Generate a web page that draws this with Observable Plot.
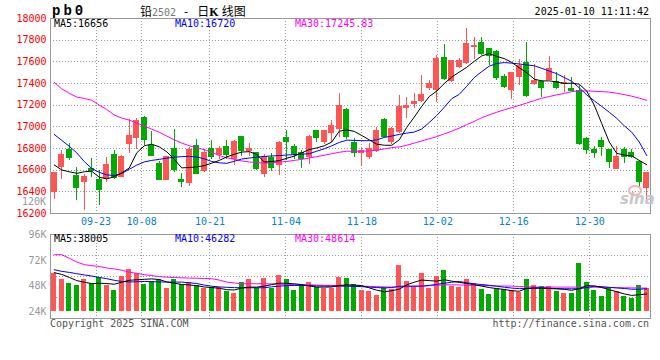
<!DOCTYPE html>
<html><head><meta charset="utf-8">
<script src="https://cdn.jsdelivr.net/npm/d3@7"></script>
<script src="https://cdn.jsdelivr.net/npm/@observablehq/plot@0.6"></script>
<style>
body{margin:0;background:#fff}
#wrap{position:relative;width:660px;height:360px;overflow:hidden;background:#fff;font-family:"DejaVu Sans Mono",monospace;font-size:10px}
.t{position:absolute;white-space:nowrap;line-height:1;z-index:5}
</style></head><body>
<div id="wrap">
  <div id="p1" style="position:absolute;left:0;top:0"></div>
  <div id="p2" style="position:absolute;left:0;top:222px"></div>
</div>
<script>
// ---------- data ----------
const opens  = [16395,16625,16788,16548,16495,16610,16511,16517,16742,16541,16840,16895,17080,16825,16655,16511,16794,16511,16480,16825,16588,16800,16737,16817,16700,16906,16777,16755,16561,16709,16644,16894,16817,16761,16724,16962,16860,16940,16983,17156,16854,16760,16725,16780,17063,16856,16948,17178,17215,17240,17363,17339,17633,17424,17556,17593,17738,17777,17716,17694,17461,17342,17464,17593,17394,17418,17434,17418,17394,17348,17332,16888,16789,16865,16789,16611,16789,16755,16679,16433];
const closes = [16575,16742,16708,16431,16538,16595,16421,16646,16532,16723,16917,17055,16877,16732,16511,16723,16603,16495,16788,16569,16754,16717,16792,16737,16860,16777,16792,16607,16724,16616,16848,16860,16746,16700,16909,16894,16962,17008,17193,16906,16761,16775,16796,16964,16909,16980,17185,17190,17231,17296,17400,17624,17440,17609,17609,17762,17747,17670,17655,17455,17369,17501,17563,17286,17424,17357,17532,17363,17409,17332,16842,16786,16755,16817,16672,16725,16718,16725,16494,16575];
const highs  = [16580,16778,16849,16625,16563,16708,16600,16717,16778,16732,17071,17080,17092,16954,16677,16730,16972,16569,16809,16886,16788,16871,16823,16875,16875,16915,16848,16767,16746,16755,16869,16962,16838,16783,16922,16962,16965,17060,17310,17169,16891,16800,16842,16995,17081,16990,17286,17271,17308,17471,17424,17655,17756,17615,17630,17912,17823,17823,17725,17705,17486,17505,17624,17777,17578,17424,17645,17501,17471,17455,17378,16903,16817,16897,16795,16817,16805,16795,16690,16580];
const lows   = [16330,16517,16686,16323,16231,16532,16277,16486,16517,16532,16754,16794,16825,16723,16501,16505,16578,16440,16449,16557,16578,16702,16700,16700,16644,16730,16724,16600,16530,16592,16551,16690,16700,16616,16653,16854,16838,16860,16900,16885,16721,16633,16703,16765,16888,16840,16934,17081,17169,17225,17339,17225,17424,17409,17540,17578,17624,17655,17563,17424,17354,17256,17378,17271,17378,17271,17424,17348,17317,17330,16826,16743,16709,16725,16611,16608,16657,16706,16442,16295];
const volumes = [60100,54400,50700,48800,54400,50700,56000,48800,44100,57300,63800,60100,49700,52500,54400,46000,54400,49700,51600,48800,46000,46900,46900,43100,41300,51600,54400,46000,55400,46000,58200,54400,44100,48800,51600,46900,46000,46000,55700,54700,49100,43800,42800,39100,46300,44700,67300,52200,47500,59400,46000,56900,62600,47500,46600,54100,50000,44700,40000,45300,44400,43800,42200,54100,48500,47500,47500,42800,41300,41300,69500,51600,43800,38100,46000,42800,38100,36500,48500,45300];
const ma5  = [16648,16602,16585,16571,16585,16590,16535,16520,16540,16575,16620,16760,16825,16840,16815,16770,16700,16621,16625,16630,16642,16665,16690,16722,16747,16767,16771,16745,16675,16680,16688,16710,16730,16760,16790,16805,16825,16860,16960,16971,16958,16920,16880,16840,16830,16830,16880,16995,17090,17190,17280,17330,17400,17460,17505,17550,17605,17655,17676,17650,17630,17595,17545,17500,17440,17424,17424,17415,17400,17403,17394,17330,17200,17030,16860,16755,16740,16732,16690,16650];
const ma10 = [16930,16875,16820,16760,16680,16615,16580,16557,16550,16570,16608,16647,16676,16690,16700,16711,16720,16725,16727,16722,16705,16680,16668,16663,16682,16703,16712,16720,16727,16731,16735,16740,16744,16747,16752,16775,16797,16825,16856,16877,16875,16872,16872,16880,16902,16915,16930,16942,16952,16980,17040,17105,17180,17260,17300,17375,17455,17510,17560,17585,17593,17588,17580,17572,17563,17540,17515,17490,17455,17420,17360,17295,17240,17188,17135,17078,17010,16950,16860,16735];
const ma30 = [17410,17350,17310,17275,17262,17245,17200,17160,17110,17080,17062,17035,17008,16978,16950,16915,16880,16850,16825,16805,16790,16765,16735,16715,16700,16685,16675,16670,16665,16668,16675,16681,16690,16700,16712,16725,16738,16752,16765,16775,16775,16775,16778,16785,16796,16808,16815,16830,16850,16870,16890,16910,16935,16960,16988,17020,17050,17085,17110,17135,17157,17178,17198,17220,17242,17264,17280,17295,17308,17325,17332,17331,17328,17325,17320,17310,17297,17283,17265,17245];
const vma5  = [60500,58800,56000,53000,51500,50200,50500,50300,49600,51500,53300,53800,54200,54600,54000,51800,50500,49400,48900,48300,47000,46500,45800,44500,44200,46000,46900,46900,47800,49300,50600,50500,50000,49300,48000,46900,46900,47000,48500,49000,48800,48300,46200,44000,42500,43500,45000,49000,51500,53500,53000,52500,53800,52500,51300,50300,49200,47800,46500,45500,44700,43500,43000,45800,45959,45800,45500,45300,44800,43900,45500,48300,48000,46500,44500,42500,40500,39100,39800,40500];
const vma10 = [63200,61700,60700,59500,58300,57300,56000,54800,53300,52200,51700,51900,52200,52000,51800,51600,51600,51600,51000,50300,48800,47700,47100,46700,46400,46273,46273,46273,46300,47200,47800,48300,48469,48469,48400,48000,47841,47841,47841,47841,47600,47300,46900,46500,46100,46500,47700,47841,47841,47841,48500,49500,50500,51500,52200,51000,50000,49300,48600,47700,46800,46000,45500,45500,46000,46273,45900,45400,45332,45332,45332,46500,47700,47300,46700,46100,45600,44900,44900,45300];
const vma30 = [77300,77300,74000,70500,68000,67000,66300,64800,64000,62700,61000,59800,58600,57700,56800,56200,55900,55600,55400,55200,55000,54800,53500,51600,50800,50037,50037,50037,50037,49900,49600,49400,49200,49100,49000,48800,48600,48469,48300,48100,47900,47841,47600,47300,47100,46900,47100,47300,47600,47841,48200,48600,49000,49096,48900,48700,48500,48469,48200,48000,47900,47841,47500,47200,47000,46900,46900,46900,46900,46900,46900,46900,46800,46700,46500,46400,46273,46200,46100,45959];
const tickDates = ["09-23","10-08","10-21","11-04","11-18","12-02","12-16","12-30"];
const tickIndex = [6,12,21,31,41,51,61,71];
const priceTicks = [16200,16400,16600,16800,17000,17200,17400,17600,17800,18000];
const volTicks = [24000,48000,72000,96000];
const volBase = 24000;
const priceDomain = [16200,18000];
const volDomain = [17150,96000];

// ---------- build ----------
const UP = "#ff5555", DOWN = "#00aa00", GRID = "#999";
const N = opens.length;
const rows = opens.map((o,i)=>({
  i, x: i+0.5, o, c: closes[i], h: highs[i], l: lows[i], v: volumes[i],
  lo: Math.min(o,closes[i]), hi: Math.max(o,closes[i]),
  col: closes[i] >= o ? UP : DOWN,
  ma5: ma5[i], ma10: ma10[i], ma30: ma30[i],
  vma5: vma5[i], vma10: vma10[i], vma30: vma30[i]
}));
const gridX = tickIndex.map(k => k * N / (N - 1));
const fmtX = d => tickDates[gridX.indexOf(d)];
const font = "DejaVu Sans Mono, monospace";
const dotted = {stroke: GRID, strokeDasharray: "1,2", strokeWidth: 1, shapeRendering: "crispEdges"};

const p1 = Plot.plot({
  width: 660, height: 230, marginLeft: 50, marginRight: 10, marginTop: 18, marginBottom: 17,
  x: {domain: [0, N], axis: null},
  y: {domain: priceDomain, axis: null},
  style: {fontFamily: font, fontSize: "10px", background: "transparent"},
  marks: [
    Plot.ruleY(priceTicks.slice(1, -1), dotted),
    Plot.ruleX(gridX, dotted),
    Plot.frame({stroke: "#999", shapeRendering: "crispEdges"}),
    Plot.ruleX(rows, {x: "x", y1: "l", y2: "h", stroke: "col", strokeWidth: 1, shapeRendering: "crispEdges"}),
    Plot.rect(rows, {x1: d => d.i + 0.12, x2: d => d.i + 0.88, y1: "lo", y2: "hi", fill: "col", insetTop: -0.5, insetBottom: -0.5, shapeRendering: "crispEdges"}),
    Plot.line(rows, {x: "x", y: "ma30", stroke: "#ff00ff", strokeWidth: 1}),
    Plot.line(rows, {x: "x", y: "ma10", stroke: "#0000ff", strokeWidth: 1}),
    Plot.line(rows, {x: "x", y: "ma5", stroke: "#000", strokeWidth: 1}),
    Plot.axisY({ticks: priceTicks, tickFormat: d => String(d), tickSize: 0, tickPadding: 4, color: "#f00", label: null, fontSize: 10}),
    Plot.axisX({ticks: gridX, tickFormat: fmtX, tickSize: 0, tickPadding: 4, color: "#0a80d0", label: null, fontSize: 10})
  ]
});
document.getElementById("p1").appendChild(p1);

const vq = (volDomain[1] - volDomain[0]) / 4;
const volGrid = [1,2,3].map(k => volDomain[0] + k * vq);
const p2 = Plot.plot({
  width: 660, height: 138, marginLeft: 50, marginRight: 10, marginTop: 12.3, marginBottom: 41.7,
  x: {domain: [0, N], axis: null},
  y: {domain: volDomain, axis: null},
  style: {fontFamily: font, fontSize: "10px", background: "transparent"},
  marks: [
    Plot.ruleY(volGrid, dotted),
    Plot.ruleX(gridX, dotted),
    Plot.frame({stroke: "#999", shapeRendering: "crispEdges"}),
    Plot.rect(rows, {x1: d => d.i + 0.14, x2: d => d.i + 0.86, y1: () => volBase, y2: "v", fill: "col", shapeRendering: "crispEdges"}),
    Plot.line(rows, {x: "x", y: "vma30", stroke: "#ff00ff", strokeWidth: 1}),
    Plot.line(rows, {x: "x", y: "vma10", stroke: "#0000ff", strokeWidth: 1}),
    Plot.line(rows, {x: "x", y: "vma5", stroke: "#000", strokeWidth: 1}),
    Plot.axisY({ticks: volTicks, tickFormat: d => (d/1000) + "K", tickSize: 0, tickPadding: 4, color: "#999", label: null, fontSize: 10})
  ]
});
document.getElementById("p2").appendChild(p2);

// ---------- texts ----------
const wrap = document.getElementById("wrap");
function addText(x, y, html, style = {}, anchor = "start") {
  const d = document.createElement("div");
  d.className = "t";
  d.innerHTML = html;
  d.style.left = x + "px";
  d.style.top = y + "px";
  d.style.transform = (anchor === "end" ? "translateX(-100%) " : "") + "translateY(-50%)";
  Object.assign(d.style, style);
  wrap.appendChild(d);
}
const sz = {fontSize: "10px"};
addText(52, 11, "pb0", {fontFamily: "'Liberation Mono',monospace", fontWeight: "bold", fontSize: "14px", letterSpacing: "3px"});
addText(140, 11, '铅<span style="color:#777;font-family:\'DejaVu Sans Mono\';font-size:10px">2502</span><span style="padding:0 9px 0 8px">-</span>日<b style="font-family:\'Liberation Serif\'">K</b><span style="padding-left:3px">线图</span>', {fontFamily: "'Noto Sans CJK SC',sans-serif", fontSize: "12px"});
addText(649, 12, "2025-01-10 11:11:42", {color: "#000", ...sz}, "end");
addText(54, 24, "MA5:16656", {color: "#000", ...sz});
addText(175, 24, "MA10:16720", {color: "#0000ff", ...sz});
addText(295, 24, "MA30:17245.83", {color: "#ff00ff", ...sz});
addText(46, 202, "120K", {color: "#999", ...sz}, "end");
addText(54, 239, "MA5:38005", {color: "#000", ...sz});
addText(175, 239, "MA10:46282", {color: "#0000ff", ...sz});
addText(295, 239, "MA30:48614", {color: "#ff00ff", ...sz});
addText(50, 324, "Copyright 2025 SINA.COM", {color: "#555", ...sz});
addText(649, 324, "http://finance.sina.com.cn", {color: "#555", ...sz}, "end");
addText(620, 199, "sina", {color: "#c8c8c8", fontFamily: "'DejaVu Sans',sans-serif", fontWeight: "bold", fontStyle: "italic", fontSize: "15px"});
const eye = document.createElement("div");
Object.assign(eye.style, {position: "absolute", left: "628px", top: "185px", width: "10px", height: "7px", border: "2px solid #f0b4b4", borderRadius: "50%", zIndex: 4});
wrap.appendChild(eye);
</script>
</body></html>
